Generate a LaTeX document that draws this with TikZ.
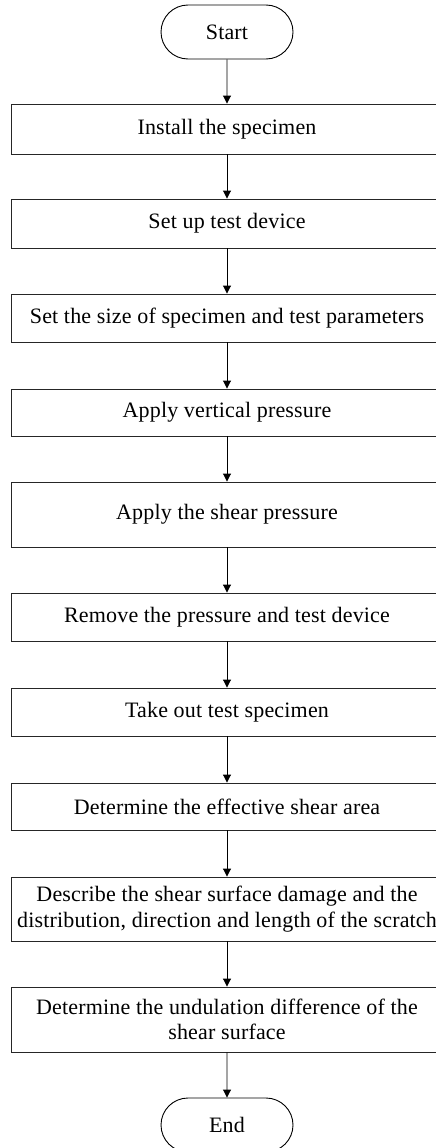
\documentclass[tikz,border=0pt]{standalone}
\usepackage{fontspec}
\setmainfont[LetterSpace=0.8]{Liberation Serif}
\usetikzlibrary{arrows.meta,shapes.misc}

\begin{document}
\begin{tikzpicture}[x=1pt,y=-1pt,
  every node/.style={font=\fontsize{22}{25.5}\selectfont, text=black, inner sep=0pt, align=center},
  procbox/.style={draw=black!85, line width=0.9pt, rectangle, minimum width=432pt},
  terminal/.style={draw=black, line width=0.9pt, rounded rectangle, minimum width=132pt, minimum height=54pt},
  flow/.style={draw=black, line width=0.9pt, -{Triangle[length=8pt,width=8pt]}}
]
\useasboundingbox (0,0) rectangle (436,1148);

% Terminals
\node[terminal] (start) at (227,32) {Start};
\node[terminal] (end) at (227,1125) {End};

% Process steps (top/bottom edges given in picture units)
\node[procbox, minimum height=50pt] (s1)  at (227,129)   {Install the specimen};
\node[procbox, minimum height=49pt] (s2)  at (227,223.5) {Set up test device};
\node[procbox, minimum height=48pt] (s3)  at (227,318)   {Set the size of specimen and test parameters};
\node[procbox, minimum height=47pt] (s4)  at (227,412.5) {Apply vertical pressure};
\node[procbox, minimum height=65pt] (s5)  at (227,514.5) {Apply the shear pressure};
\node[procbox, minimum height=48pt] (s6)  at (227,617)   {Remove the pressure and test device};
\node[procbox, minimum height=48pt] (s7)  at (227,712)   {Take out test specimen};
\node[procbox, minimum height=47pt] (s8)  at (227,806.5) {Determine the effective shear area};
\node[procbox, minimum height=64pt] (s9)  at (227,909)   {Describe the shear surface damage and the\\distribution, direction and length of the scratch};
\node[procbox, minimum height=65pt] (s10) at (227,1019.5) {Determine the undulation difference of the\\shear surface};

% Connectors
\draw[flow] (start) -- (s1);
\draw[flow] (s1) -- (s2);
\draw[flow] (s2) -- (s3);
\draw[flow] (s3) -- (s4);
\draw[flow] (s4) -- (s5);
\draw[flow] (s5) -- (s6);
\draw[flow] (s6) -- (s7);
\draw[flow] (s7) -- (s8);
\draw[flow] (s8) -- (s9);
\draw[flow] (s9) -- (s10);
\draw[flow] (s10) -- (end);
\end{tikzpicture}
\end{document}
